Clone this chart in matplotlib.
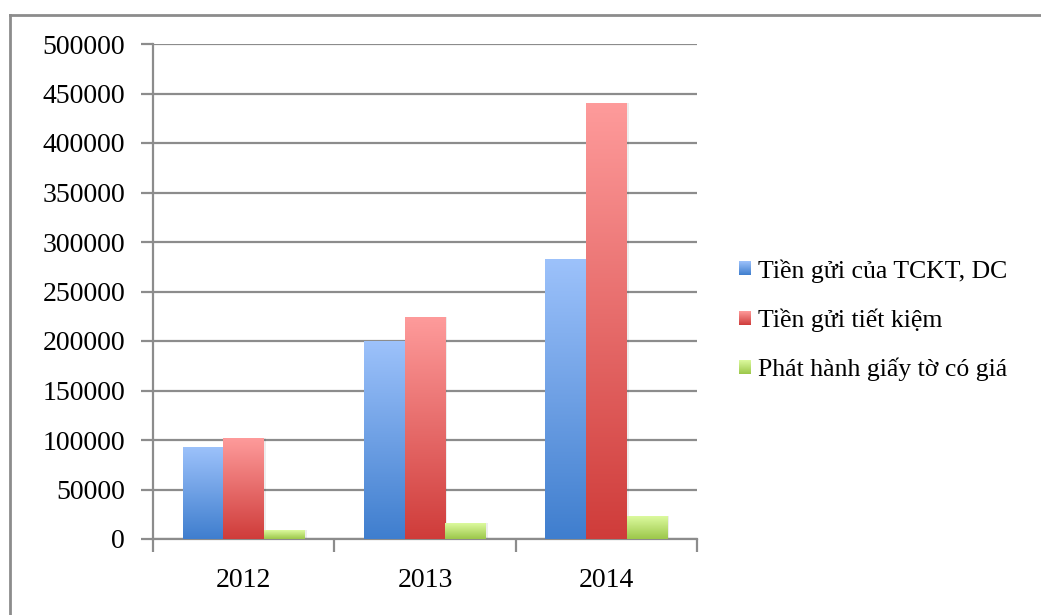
import numpy as np
import matplotlib
matplotlib.use("Agg")
import matplotlib.pyplot as plt
from matplotlib.colors import LinearSegmentedColormap
from matplotlib.lines import Line2D
from matplotlib.patches import Patch

years = ["2012", "2013", "2014"]
series_names = ["Tiền gửi của TCKT, DC", "Tiền gửi tiết kiệm", "Phát hành giấy tờ có giá"]
tckt = [93000, 200000, 283000]
tiet_kiem = [102000, 224000, 440000]
giay_to = [9000, 16000, 23000]
yticks = [0, 50000, 100000, 150000, 200000, 250000, 300000, 350000, 400000, 450000, 500000]

series = [tckt, tiet_kiem, giay_to]
grads = [("#3F7ECE", "#9DC2FB"), ("#CF3C3A", "#FE9B9B"), ("#9CC74A", "#DCFA9E")]

plt.rcParams['font.family'] = ['Liberation Serif', 'DejaVu Serif']

fig = plt.figure(figsize=(10.41, 6.15), dpi=100)
W, H = 1041, 615
ax = fig.add_axes([153 / W, 1 - 539 / H, (697 - 153) / W, (539 - 44) / H])

x = np.arange(len(years))
bw = 0.224
gray = "#8C8C8C"

grad = np.linspace(0, 1, 256).reshape(-1, 1)
for i, (vals, (c0, c1)) in enumerate(zip(series, grads)):
    cmap = LinearSegmentedColormap.from_list(f"g{i}", [c0, c1])
    bars = ax.bar(x + (i - 1) * bw, vals, width=bw, color=c1, zorder=3, linewidth=0)
    for r in bars:
        x0, y0 = r.get_x(), r.get_y()
        w, h = r.get_width(), r.get_height()
        ax.bar(x0 + w / 2 + 0.012, h, width=w, bottom=y0, color="#000000", alpha=0.07,
               zorder=2.5, linewidth=0)
        im = ax.imshow(grad, extent=[x0, x0 + w, y0, y0 + h], origin="lower",
                       cmap=cmap, aspect="auto", zorder=3.5)
        im.set_clip_path(r)

ax.set_xlim(-0.5, 2.5)
ax.set_ylim(0, 500000)
ax.set_yticks(yticks)
ax.set_yticklabels([str(v) for v in yticks], fontsize=20)
ax.yaxis.grid(True, color=gray, linewidth=1.6, zorder=1)
ax.set_axisbelow(True)

ax.set_xticks(x)
ax.set_xticklabels(years, fontsize=20)
ax.set_xticks([-0.5, 0.5, 1.5, 2.5], minor=True)
ax.tick_params(axis="x", which="major", length=0, pad=21)
ax.tick_params(axis="x", which="minor", length=9, width=1.6, color=gray)
ax.tick_params(axis="y", length=9, width=1.6, color=gray, pad=11)

for s in ["top", "right"]:
    ax.spines[s].set_visible(False)
for s in ["left", "bottom"]:
    ax.spines[s].set_color(gray)
    ax.spines[s].set_linewidth(1.6)

handles = [Patch(facecolor="none", edgecolor="none") for _ in grads]
leg = fig.legend(handles, series_names, loc="center left", bbox_to_anchor=(716 / W, 1 - 320 / H),
                 frameon=False, fontsize=18.5, handlelength=0.45, handleheight=0.45,
                 handletextpad=0.3, labelspacing=1.0)

fig.canvas.draw()
for p, (c0, c1) in zip(leg.get_patches(), grads):
    bb = p.get_window_extent()
    cmap = LinearSegmentedColormap.from_list("lg", [c0, c1])
    hax = fig.add_axes([bb.x0 / W, bb.y0 / H, bb.width / W, bb.height / H])
    hax.imshow(grad, origin="lower", cmap=cmap, aspect="auto")
    hax.set_axis_off()

fig.add_artist(Line2D([10 / W, 10 / W], [0, 1 - 15 / H], color=gray, linewidth=2, transform=fig.transFigure))
fig.add_artist(Line2D([10 / W, 1], [1 - 15 / H, 1 - 15 / H], color=gray, linewidth=2, transform=fig.transFigure))

fig.savefig("out.png", dpi=100, facecolor="white")
